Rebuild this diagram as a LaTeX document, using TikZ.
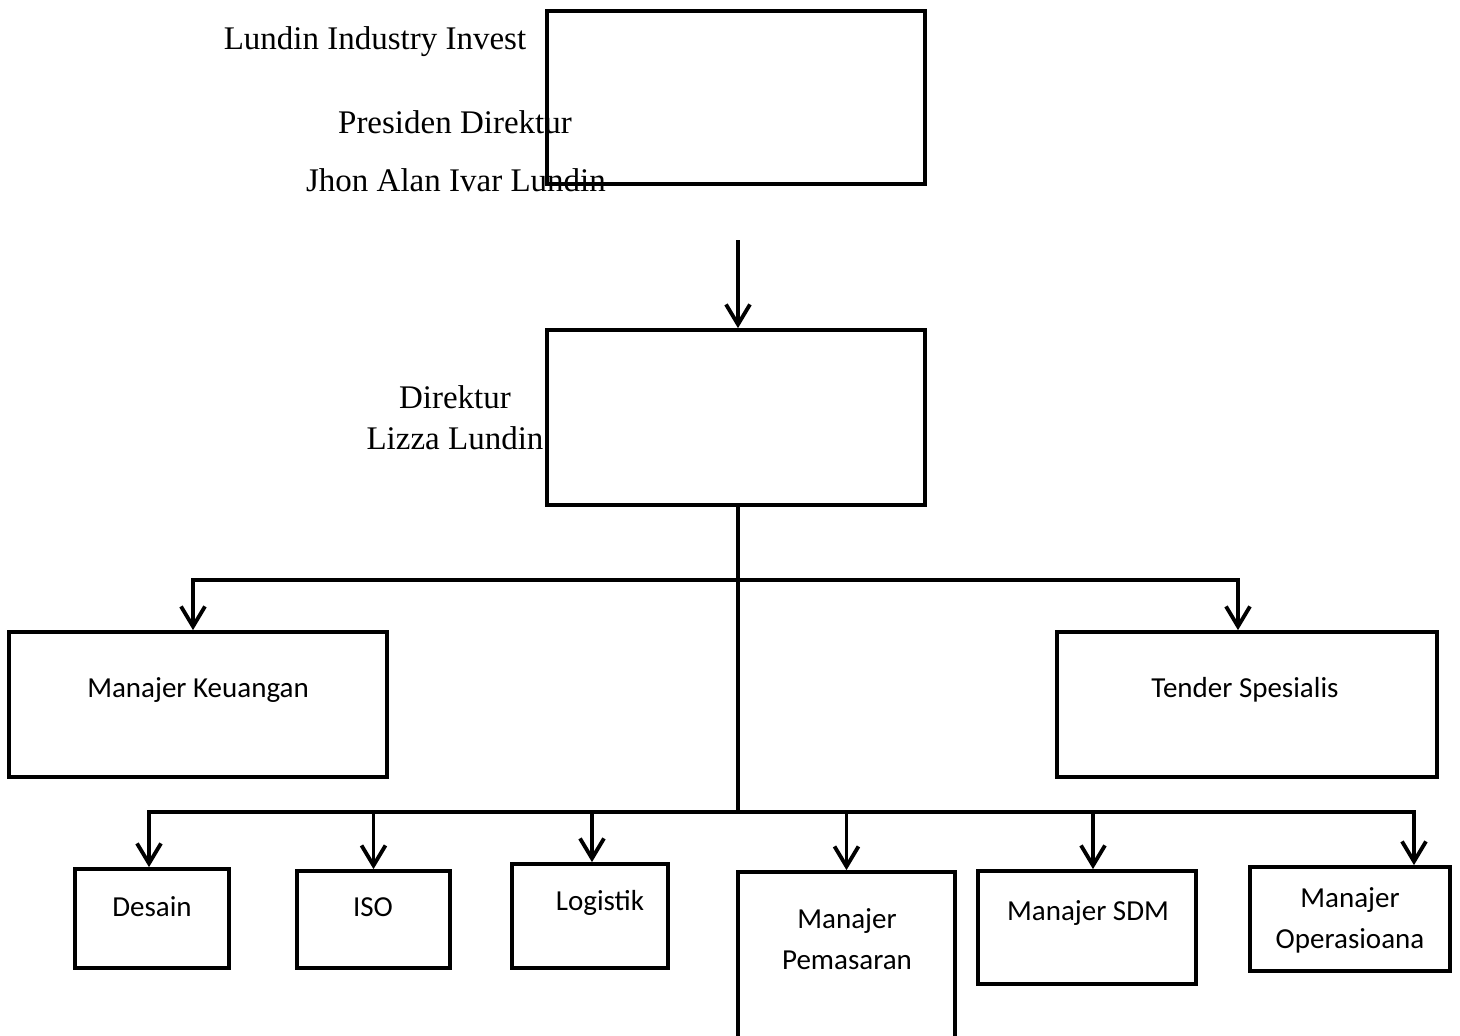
\documentclass[tikz,border=0pt]{standalone}
\usepackage{fontspec}
\setmainfont{Liberation Serif}
\newfontfamily\boxfont{Carlito}
\usetikzlibrary{arrows.meta, positioning}
\tikzset{
  every picture/.style={line width=3.8pt},
  box/.style={draw, rectangle, inner sep=0pt, minimum width=#1},
  person/.style={font=\fontsize{33}{38}\selectfont, inner sep=0pt},
  role/.style={font=\boxfont\fontsize{29}{41}\selectfont, align=center, inner sep=0pt},
  arrow/.style={-{Straight Barb[length=20pt, width=24pt, line width=3.8pt]}},
}
\begin{document}
\begin{tikzpicture}[x=1pt, y=-1pt]
  \useasboundingbox (0,0) rectangle (1460,1036);
  % top of the chart
  \node[box=378pt, minimum height=173pt] (pres) at (736,97.5) {};
  \node[person] (lii) at (375,42) {Lundin Industry Invest};
  \node[person] (prt) at (455,122) {Presiden Direktur};
  \node[person] (jhon) at (456,180) {Jhon Alan Ivar Lundin};
  \node[box=378pt, minimum height=175pt] (dir) at (736,417.5) {};
  \node[person] (drt) at (455,397) {Direktur};
  \node[person] (lizza) at (455,438) {Lizza Lundin};
  \coordinate (pd) at (738,240);
  \draw[arrow] (pd) -- (dir.north -| pd);
  % second row
  \node[box=378pt, minimum height=145pt] (keu) at (198,704.5) {};
  \node[role] (keut) at (198,690) {Manajer Keuangan};
  \node[box=380pt, minimum height=145pt] (tend) at (1247,704.5) {};
  \node[role] (tendt) at (1245,690) {Tender Spesialis};
  \coordinate (j1) at (738,580);
  \coordinate (j2) at (738,812);
  \draw (dir.south -| j1) -- (j2);
  \draw[arrow] (j1) -| ([xshift=-5pt]keu.north);
  \draw[arrow] (j1) -| ([xshift=-9pt]tend.north);
  % bottom row
  \node[box=154pt, minimum height=99pt] (des) at (152,918.5) {};
  \node[role] (dest) at (152,907) {Desain};
  \node[box=153pt, minimum height=97pt] (iso) at (373.5,919.5) {};
  \node[role] (isot) at (373,907) {ISO};
  \node[box=156pt, minimum height=104pt] (log) at (590,916) {};
  \node[role] (logt) at (600,903) {Logistik};
  \node[box=217pt, minimum height=180pt] (pem) at (846.5,962) {};
  \node[role] (pemt) at (847,939) {Manajer\\Pemasaran};
  \node[box=218pt, minimum height=113pt] (sdm) at (1087,927.5) {};
  \node[role] (sdmt) at (1088,913) {Manajer SDM};
  \node[box=200pt, minimum height=104pt] (ops) at (1350,919) {};
  \node[role] (opst) at (1350,920) {Manajer\\Operasioana};
  \draw (j2) -- (149,812);
  \draw (j2) -- (1414,812);
  \draw[arrow] (j2) -| ([xshift=-3pt]des.north);
  \draw[arrow] (j2) -| (iso.north);
  \draw[arrow] (j2) -| ([xshift=2pt]log.north);
  \draw[arrow] (j2) -| (pem.north);
  \draw[arrow] (j2) -| ([xshift=6pt]sdm.north);
  \draw[arrow] (j2) -| ([xshift=64pt]ops.north);
\end{tikzpicture}
\end{document}
